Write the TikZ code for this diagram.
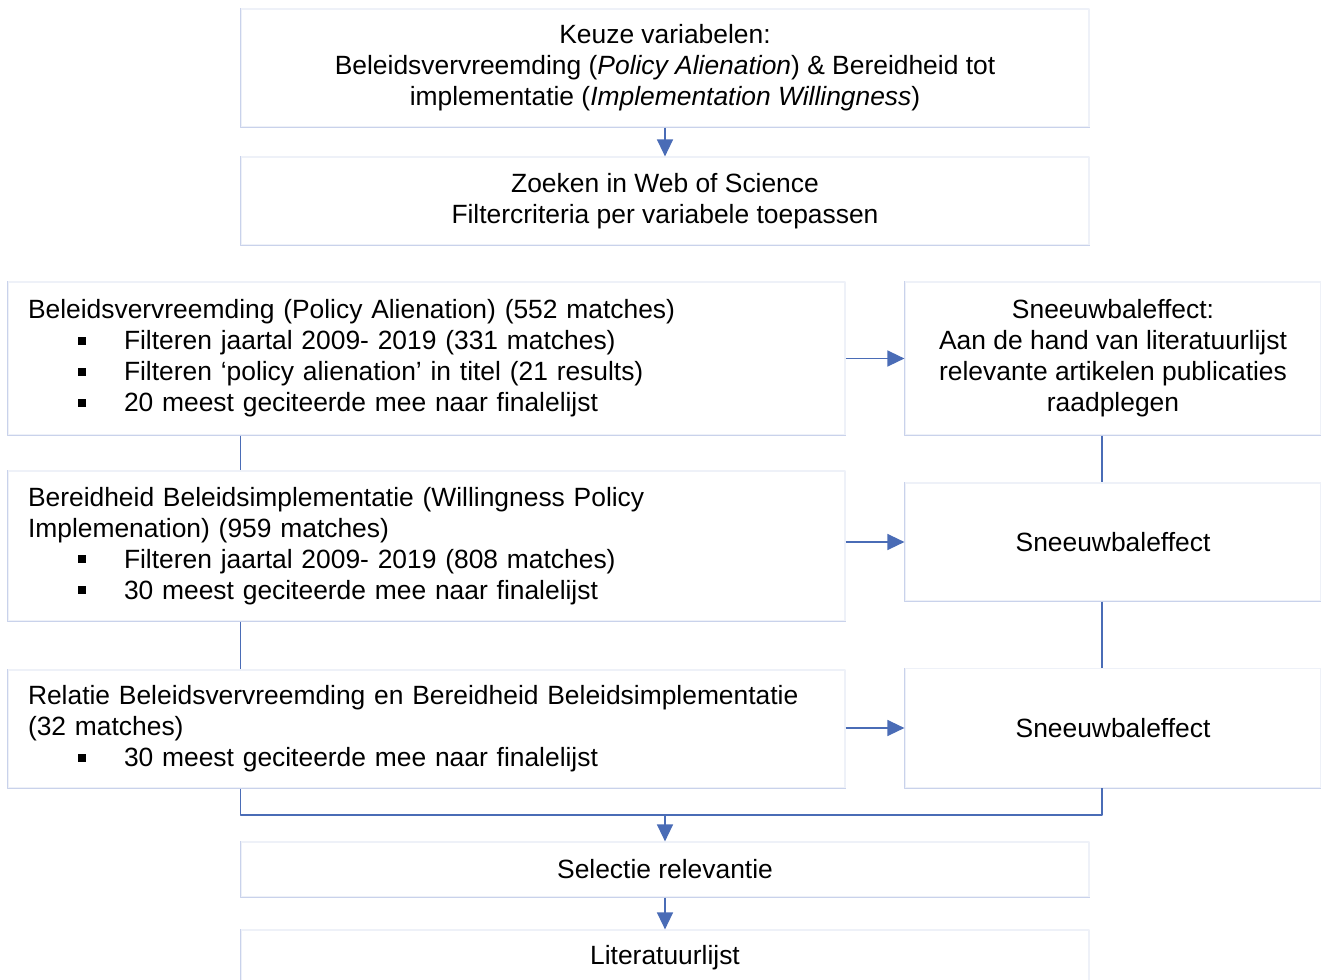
\documentclass[tikz,border=0pt]{standalone}
\usepackage{fontspec}
\setmainfont{Liberation Sans}
\usetikzlibrary{arrows.meta}
\definecolor{flowblue}{HTML}{4A6CB6}
\definecolor{edgeblue}{HTML}{C9D2EB}
\definecolor{edgefaint}{HTML}{EEF1F8}
\tikzset{
  every picture/.style={line join=round, >=Stealth},
  flowbox/.style={draw=edgefaint, line width=1.2pt, rectangle, inner sep=0pt, align=center, font=\fontsize{26.4}{31}\selectfont},
  leftbox/.style={flowbox, align=left, text width=797pt, inner xsep=20pt},
  boxedge/.style={draw=edgeblue, line width=1.2pt},
  conn/.style={draw=flowblue, line width=1.4pt},
  arr/.style={conn, -{Triangle[width=16pt,length=17pt]}},
}
\newcommand{\bul}{\hspace*{50pt}\makebox[46pt][l]{\rule[5pt]{8pt}{8pt}}}

\begin{document}
\begin{tikzpicture}[x=1pt,y=-1pt]
\useasboundingbox (0,0) rectangle (1321,979);
\node[flowbox,minimum width=848pt,minimum height=118pt] (keuze) at (665,68) {Keuze variabelen:\\Beleidsvervreemding (\textit{Policy Alienation}) \& Bereidheid tot\\implementatie (\textit{Implementation Willingness})};
\node[flowbox,minimum width=848pt,minimum height=88pt] (zoeken) at (665,201) {Zoeken in Web of Science\\Filtercriteria per variabele toepassen};
\node[leftbox,minimum height=153pt] (alien) at (426.5,358.5) {Beleidsvervreemding (Policy Alienation) (552 matches)\\\bul Filteren jaartal 2009- 2019 (331 matches)\\\bul Filteren ‘policy alienation’ in titel (21 results)\\\bul 20 meest geciteerde mee naar finalelijst};
\node[flowbox,minimum width=416pt,minimum height=153pt] (snow1) at (1113,358.5) {Sneeuwbaleffect:\\Aan de hand van literatuurlijst\\relevante artikelen publicaties\\raadplegen};
\node[leftbox,minimum height=150pt] (willing) at (426.5,546) {Bereidheid Beleidsimplementatie (Willingness Policy\\Implemenation) (959 matches)\\\bul Filteren jaartal 2009- 2019 (808 matches)\\\bul 30 meest geciteerde mee naar finalelijst};
\node[flowbox,minimum width=416pt,minimum height=118pt] (snow2) at (1113,542) {Sneeuwbaleffect};
\node[leftbox,minimum height=118pt] (relatie) at (426.5,729) {Relatie Beleidsvervreemding en Bereidheid Beleidsimplementatie\\(32 matches)\\\bul 30 meest geciteerde mee naar finalelijst};
\node[flowbox,minimum width=416pt,minimum height=119pt] (snow3) at (1113,728) {Sneeuwbaleffect};
\node[flowbox,minimum width=848pt,minimum height=55pt] (selectie) at (665,869.5) {Selectie relevantie};
\node[flowbox,minimum width=848pt,minimum height=55pt] (lijst) at (665,957.5) {Literatuurlijst};
\foreach \n in {keuze,zoeken,alien,snow1,willing,snow2,relatie,snow3,selectie,lijst}
  \draw[boxedge] (\n.north west) -- (\n.south west) -- (\n.south east);
\coordinate (rline) at (1102,0);
\coordinate (merge) at (665,815);
\draw[arr] (keuze.south) -- (zoeken.north);
\draw[arr] (alien.east) -- (snow1.west);
\draw[arr] (snow2.west -| willing.east) -- (snow2.west);
\draw[arr] (snow3.west -| relatie.east) -- (snow3.west);
\draw[conn] (alien.south -| zoeken.west) -- (willing.north -| zoeken.west);
\draw[conn] (willing.south -| zoeken.west) -- (relatie.north -| zoeken.west);
\draw[conn] (snow1.south -| rline) -- (snow2.north -| rline);
\draw[conn] (snow2.south -| rline) -- (snow3.north -| rline);
\draw[conn] (relatie.south -| zoeken.west) |- (merge) -| (snow3.south -| rline);
\draw[arr] (merge) -- (selectie.north);
\draw[arr] (selectie.south) -- (lijst.north);
\end{tikzpicture}
\end{document}
